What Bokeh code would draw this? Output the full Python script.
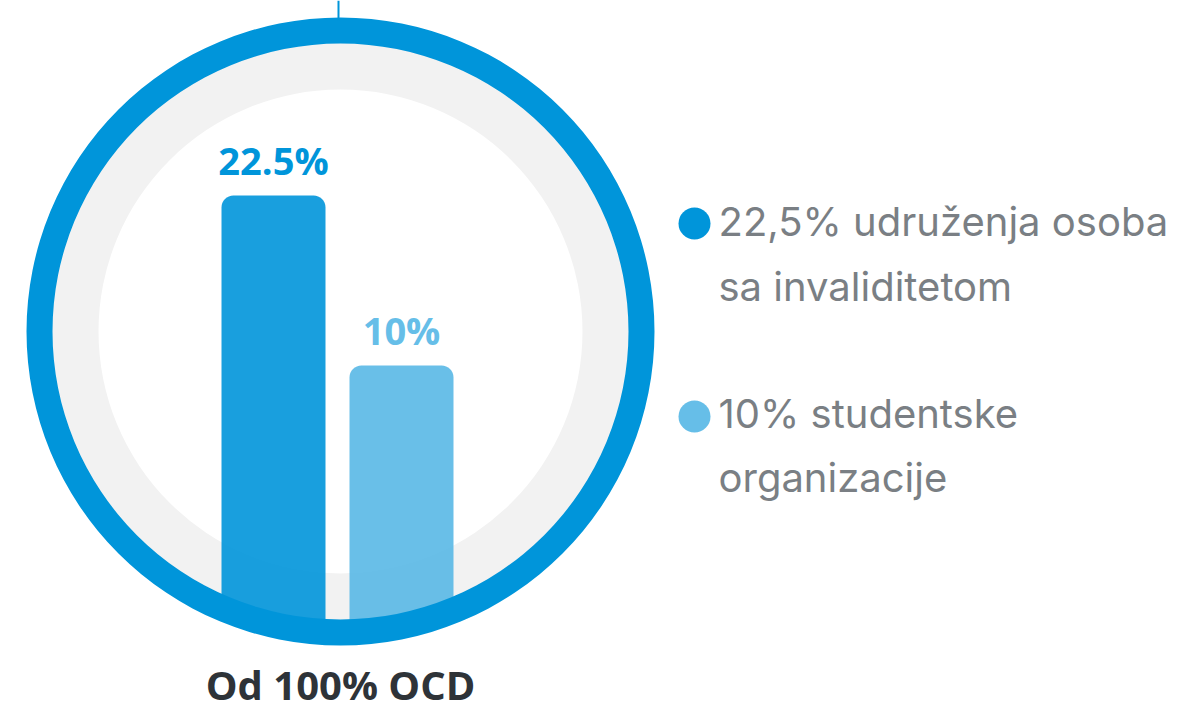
from bokeh.plotting import figure
from bokeh.models import Range1d, ColumnDataSource
from bokeh.core.properties import value
from bokeh.embed import file_html
from bokeh.resources import INLINE

# ---- data ----
categories = ["udruženja osoba sa invaliditetom", "studentske organizacije"]
values = [22.5, 10.0]
value_labels = ["22.5%", "10%"]
bar_colors = ["#0095DA", "#59B8E6"]
label_colors = ["#0095DA", "#66BEE8"]
legend_lines = [["22,5% udruženja osoba", "sa invaliditetom"],
                ["10% studentske", "organizacije"]]
legend_colors = ["#0095DA", "#66BEE8"]
caption = "Od 100% OCD"

# ---- layout helpers (screen layout, reference pixel coordinates) ----
W, H = 1182, 712
PX_PER_PCT = 13.6
BASE_PX = 501.0          # pixel row where value 0 sits
TEXT_SHIFT = 17          # compensation for svg text baseline placement


def py(ypx):
    return (BASE_PX - ypx) / PX_PER_PCT


p = figure(width=W, height=H, output_backend="svg", toolbar_location=None,
           x_range=Range1d(0, W), y_range=Range1d(py(H), py(0)),
           min_border=0, outline_line_color=None)
p.axis.visible = False
p.grid.visible = False
p.background_fill_color = "white"
p.border_fill_color = "white"

cx, cy = 340, py(331)

# light grey ring + white center
p.circle(x=[cx], y=[cy], radius=290, radius_units="screen",
         fill_color="#F2F2F2", line_color=None)
p.circle(x=[cx], y=[cy], radius=242, radius_units="screen",
         fill_color="white", line_color=None)

# bars (extend down behind the ring)
bar_x = [273, 401]
src = ColumnDataSource(dict(x=bar_x, top=values, color=bar_colors))
p.vbar(x="x", top="top", bottom=py(H), width=104, source=src,
       fill_color="color", fill_alpha=0.9, line_color=None, border_radius=12)

# mask outside of circle
p.annulus(x=[cx], y=[cy], inner_radius=313, outer_radius=900,
          inner_radius_units="screen", outer_radius_units="screen",
          fill_color="white", line_color=None)

# blue ring
p.annulus(x=[cx], y=[cy], inner_radius=288, outer_radius=314,
          inner_radius_units="screen", outer_radius_units="screen",
          fill_color="#0095DA", line_color=None)

# vertical connector line at the top
p.segment(x0=[338], y0=[py(0)], x1=[338], y1=[py(20)],
          line_color="#0095DA", line_width=2)

# value labels
lab = ColumnDataSource(dict(x=bar_x, y=values, t=value_labels, c=label_colors))
p.text(x="x", y="y", text="t", text_color="c", source=lab,
       text_font=value("Open Sans"), text_font_style="bold", text_font_size="38px",
       text_align="center", text_baseline="alphabetic",
       y_offset=-19 - TEXT_SHIFT)

# legend
dot_y = [223, 416]
line_base = [[238, 303], [430, 494]]
for i in range(2):
    p.scatter(x=[694], y=[py(dot_y[i])], size=32, marker="circle",
              fill_color=legend_colors[i], line_color=None)
    for j, txt in enumerate(legend_lines[i]):
        p.text(x=[718], y=[py(line_base[i][j] - TEXT_SHIFT)], text=[txt],
               text_color="#7A7F84", text_font=value("Inter"),
               text_font_size="40px", text_align="left",
               text_baseline="alphabetic")

# caption
p.text(x=[340], y=[py(701 - TEXT_SHIFT)], text=[caption], text_color="#2E3338",
       text_font=value("Open Sans"), text_font_style="bold", text_font_size="40px",
       text_align="center", text_baseline="alphabetic")

open("out.html", "w").write(file_html(p, INLINE))
